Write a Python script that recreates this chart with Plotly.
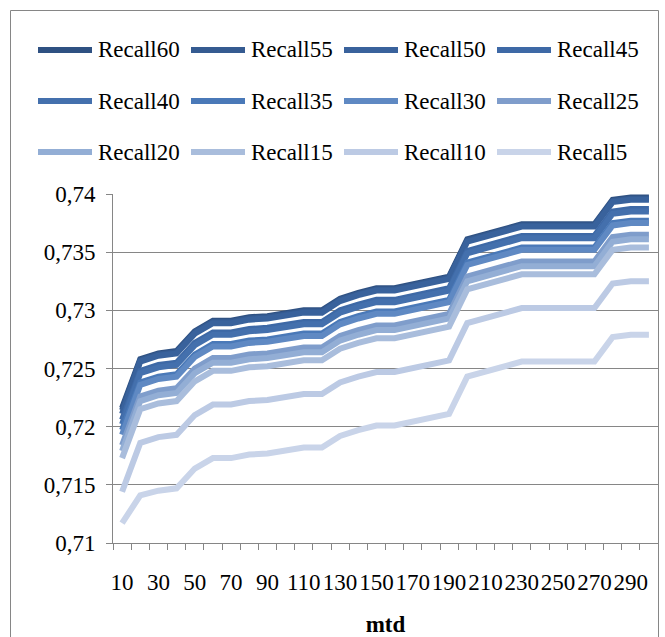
import plotly.graph_objects as go

# mtd settings along the x axis
mtd = [10, 20, 30, 40, 50, 60, 70, 80, 90, 100,
       110, 120, 130, 140, 150, 160, 170, 180, 190, 200,
       210, 220, 230, 240, 250, 260, 270, 280, 290, 300]

recall60 = [0.7216, 0.7258, 0.7263, 0.7265, 0.7282, 0.7291, 0.7291, 0.7294, 0.7295, 0.7298,
            0.7300, 0.7300, 0.7310, 0.7315, 0.7319, 0.7319, 0.7322, 0.7326, 0.7329, 0.7361,
            0.7365, 0.7370, 0.7374, 0.7374, 0.7374, 0.7374, 0.7374, 0.7395, 0.7397, 0.7397]
recall55 = [0.7214, 0.7257, 0.7262, 0.7264, 0.7281, 0.7290, 0.7290, 0.7293, 0.7294, 0.7297,
            0.7299, 0.7299, 0.7309, 0.7314, 0.7318, 0.7318, 0.7321, 0.7325, 0.7328, 0.7360,
            0.7364, 0.7369, 0.7373, 0.7373, 0.7373, 0.7373, 0.7373, 0.7394, 0.7396, 0.7396]
recall50 = [0.7211, 0.7256, 0.7261, 0.7263, 0.7280, 0.7289, 0.7289, 0.7292, 0.7293, 0.7296,
            0.7298, 0.7298, 0.7308, 0.7313, 0.7317, 0.7317, 0.7320, 0.7324, 0.7327, 0.7359,
            0.7363, 0.7368, 0.7372, 0.7372, 0.7372, 0.7372, 0.7372, 0.7393, 0.7395, 0.7395]
recall45 = [0.7206, 0.7248, 0.7253, 0.7255, 0.7272, 0.7281, 0.7281, 0.7284, 0.7285, 0.7288,
            0.7290, 0.7290, 0.7300, 0.7305, 0.7309, 0.7309, 0.7312, 0.7316, 0.7319, 0.7351,
            0.7355, 0.7360, 0.7364, 0.7364, 0.7364, 0.7364, 0.7364, 0.7385, 0.7387, 0.7387]
recall40 = [0.7202, 0.7246, 0.7251, 0.7253, 0.7270, 0.7279, 0.7279, 0.7282, 0.7283, 0.7286,
            0.7288, 0.7288, 0.7298, 0.7303, 0.7307, 0.7307, 0.7310, 0.7314, 0.7317, 0.7349,
            0.7353, 0.7358, 0.7362, 0.7362, 0.7362, 0.7362, 0.7362, 0.7383, 0.7385, 0.7385]
recall35 = [0.7197, 0.7238, 0.7243, 0.7245, 0.7262, 0.7271, 0.7271, 0.7274, 0.7275, 0.7278,
            0.7280, 0.7280, 0.7290, 0.7295, 0.7299, 0.7299, 0.7302, 0.7306, 0.7309, 0.7341,
            0.7345, 0.7350, 0.7354, 0.7354, 0.7354, 0.7354, 0.7354, 0.7375, 0.7377, 0.7377]
recall30 = [0.7193, 0.7236, 0.7241, 0.7243, 0.7260, 0.7269, 0.7269, 0.7272, 0.7273, 0.7276,
            0.7278, 0.7278, 0.7288, 0.7293, 0.7297, 0.7297, 0.7300, 0.7304, 0.7307, 0.7339,
            0.7343, 0.7348, 0.7352, 0.7352, 0.7352, 0.7352, 0.7352, 0.7373, 0.7375, 0.7375]
recall25 = [0.7184, 0.7226, 0.7231, 0.7233, 0.7250, 0.7259, 0.7259, 0.7262, 0.7263, 0.7266,
            0.7268, 0.7268, 0.7278, 0.7283, 0.7287, 0.7287, 0.7290, 0.7294, 0.7297, 0.7329,
            0.7333, 0.7338, 0.7342, 0.7342, 0.7342, 0.7342, 0.7342, 0.7363, 0.7365, 0.7365]
recall20 = [0.7179, 0.7222, 0.7227, 0.7229, 0.7246, 0.7255, 0.7255, 0.7258, 0.7259, 0.7262,
            0.7264, 0.7264, 0.7274, 0.7279, 0.7283, 0.7283, 0.7286, 0.7290, 0.7293, 0.7325,
            0.7329, 0.7334, 0.7338, 0.7338, 0.7338, 0.7338, 0.7338, 0.7359, 0.7361, 0.7361]
recall15 = [0.7173, 0.7215, 0.7220, 0.7222, 0.7239, 0.7248, 0.7248, 0.7251, 0.7252, 0.7255,
            0.7257, 0.7257, 0.7267, 0.7272, 0.7276, 0.7276, 0.7279, 0.7283, 0.7286, 0.7318,
            0.7322, 0.7327, 0.7331, 0.7331, 0.7331, 0.7331, 0.7331, 0.7352, 0.7354, 0.7354]
recall10 = [0.7144, 0.7186, 0.7191, 0.7193, 0.7210, 0.7219, 0.7219, 0.7222, 0.7223, 0.7226,
            0.7228, 0.7228, 0.7238, 0.7243, 0.7247, 0.7247, 0.7250, 0.7254, 0.7257, 0.7289,
            0.7293, 0.7298, 0.7302, 0.7302, 0.7302, 0.7302, 0.7302, 0.7323, 0.7325, 0.7325]
recall5 = [0.7117, 0.7141, 0.7145, 0.7147, 0.7164, 0.7173, 0.7173, 0.7176, 0.7177, 0.7180,
           0.7182, 0.7182, 0.7192, 0.7197, 0.7201, 0.7201, 0.7204, 0.7208, 0.7211, 0.7243,
           0.7247, 0.7252, 0.7256, 0.7256, 0.7256, 0.7256, 0.7256, 0.7277, 0.7279, 0.7279]

series_names = ["Recall60", "Recall55", "Recall50", "Recall45", "Recall40", "Recall35",
                "Recall30", "Recall25", "Recall20", "Recall15", "Recall10", "Recall5"]
series_values = [recall60, recall55, recall50, recall45, recall40, recall35,
                 recall30, recall25, recall20, recall15, recall10, recall5]
series_colors = ["#2f5182", "#355b91", "#39629c", "#3e69a6", "#4470ad", "#4a79b8",
                 "#5f89c3", "#7f9dcb", "#93aed5", "#a9bddc", "#bccae4", "#c9d4e9"]

x_ticks = [10, 30, 50, 70, 90, 110, 130, 150, 170, 190, 210, 230, 250, 270, 290]
y_ticks = [0.71, 0.715, 0.72, 0.725, 0.73, 0.735, 0.74]

W, H = 665, 637
L, R, T, B = 113, 658, 194, 543  # plot area in pixels
FONT = "'Liberation Serif', 'Times New Roman', serif"
FS = 23
GRID = "#868686"


def px_x(px):
    return (px - L) / (R - L)


def px_y(py):
    return (B - py) / (B - T)


fig = go.Figure()
for name, vals, col in zip(series_names, series_values, series_colors):
    fig.add_trace(go.Scatter(
        x=mtd, y=vals, name=name, mode="lines",
        line=dict(color=col, width=6),
        showlegend=False,
    ))

# legend: 3 rows x 4 columns of line samples and labels
shapes = []
annotations = []
col_line_x = [38, 191, 344, 497]
row_y = [50, 101, 152]
for i, (name, col) in enumerate(zip(series_names, series_colors)):
    r, c = divmod(i, 4)
    x0 = col_line_x[c]
    y = row_y[r]
    shapes.append(dict(type="line", xref="paper", yref="paper",
                       x0=px_x(x0), x1=px_x(x0 + 54), y0=px_y(y), y1=px_y(y),
                       line=dict(color=col, width=6)))
    annotations.append(dict(xref="paper", yref="paper", x=px_x(x0 + 58), y=px_y(y),
                            xanchor="left", yanchor="middle", showarrow=False,
                            text=name, font=dict(family=FONT, size=FS, color="black")))

# chart border
shapes.append(dict(type="rect", xref="paper", yref="paper",
                   x0=px_x(10.5), x1=px_x(658.5), y0=px_y(700), y1=px_y(10.5),
                   line=dict(color=GRID, width=1), fillcolor="rgba(0,0,0,0)", layer="below"))

fig.update_layout(
    width=W, height=H,
    margin=dict(l=L, r=W - R, t=T, b=H - B, pad=0, autoexpand=False),
    paper_bgcolor="white", plot_bgcolor="white",
    separators=", ",
    font=dict(family=FONT, size=FS, color="black"),
    shapes=shapes, annotations=annotations,
    showlegend=False,
)
fig.update_xaxes(
    automargin=False,
    range=[5, 305], showgrid=False, zeroline=False,
    showline=True, linecolor=GRID, linewidth=1,
    tickmode="array", tickvals=x_ticks, ticktext=[str(v) for v in x_ticks],
    tickangle=0,
    ticks="outside", ticklen=0, ticklabelstandoff=18,
    tickfont=dict(family=FONT, size=FS, color="black"),
    minor=dict(ticks="outside", ticklen=6, tickcolor=GRID, tick0=5, dtick=10, showgrid=False),
    title=dict(text="<b>mtd</b>", font=dict(family=FONT, size=23, color="black"), standoff=24),
)
fig.update_yaxes(
    automargin=False,
    range=[0.71 - 1e-7, 0.74 + 1e-7], showgrid=True, gridcolor=GRID, gridwidth=1,
    zeroline=False, showline=True, linecolor=GRID, linewidth=1,
    tickmode="array", tickvals=y_ticks, tickformat=".3~f",
    ticks="outside", ticklen=6, tickcolor=GRID, ticklabelstandoff=6,
    tickfont=dict(family=FONT, size=FS, color="black"),
)

fig.write_html("out.html")
